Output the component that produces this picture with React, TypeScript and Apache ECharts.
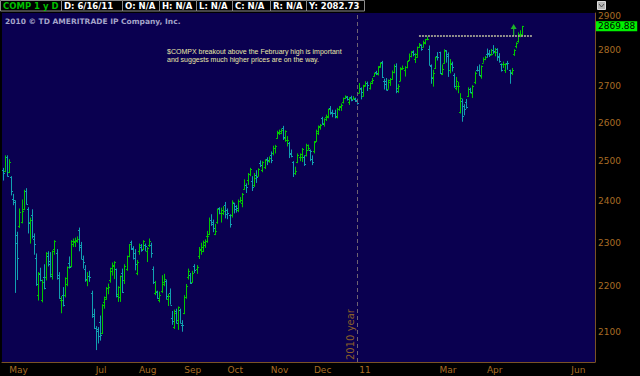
import React, { useEffect, useRef } from 'react';
import * as echarts from 'echarts';

const START_DAY = '2010-04-28';
const END_DAY = '2011-06-16';
const HOLIDAYS = ['2010-05-31', '2010-07-05', '2010-09-06', '2010-11-25', '2010-12-24', '2011-01-17', '2011-02-21', '2011-04-22', '2011-05-30'];
const MONTH_LABELS: [string, string][] = [
  ['2010-05-03', 'May'], ['2010-07-01', 'Jul'], ['2010-08-02', 'Aug'], ['2010-09-01', 'Sep'],
  ['2010-10-01', 'Oct'], ['2010-11-01', 'Nov'], ['2010-12-01', 'Dec'], ['2011-01-03', '11'],
  ['2011-03-01', 'Mar'], ['2011-04-01', 'Apr'], ['2011-06-01', 'Jun'],
];
const Y_TICKS = [2100, 2200, 2300, 2400, 2500, 2600, 2700, 2800, 2900];
const LAST_PRICE = 2869.88;
const FEB_HIGH = 2842;
const FEB_HIGH_FROM = '2011-02-14';
const FEB_HIGH_TO = '2011-05-04';
const YEAR_LINE_DAY = '2010-12-31';
const ARROW_POINT: [string, number] = ['2011-04-20', 2859];

// daily bars in trading-day order from 2010-04-28: [open, high, low, close]
const OHLC: number[][] = [
  [2478,2483,2451,2471],[2475,2515,2472,2512],[2510,2515,2461,2463],[2472,2505,2470,2498],[2460,2462,2414,2424],
  [2405,2418,2390,2402],[2398,2402,2185,2319],[2300,2326,2214,2265],[2340,2382,2335,2374],[2350,2404,2346,2375],
  [2380,2428,2378,2425],[2425,2432,2392,2394],[2380,2385,2322,2347],[2350,2360,2298,2354],[2365,2380,2310,2317],
  [2310,2322,2272,2298],[2265,2275,2201,2204],[2180,2232,2168,2229],[2228,2242,2211,2213],[2170,2215,2164,2210],
  [2220,2250,2193,2195],[2220,2278,2213,2277],[2270,2280,2245,2257],[2250,2278,2220,2222],[2228,2282,2215,2281],
  [2285,2306,2272,2303],[2275,2285,2215,2219],[2225,2232,2172,2173],[2170,2178,2140,2170],[2180,2198,2155,2158],
  [2180,2220,2175,2218],[2205,2245,2200,2243],[2252,2268,2240,2243],[2245,2306,2243,2305],[2296,2310,2290,2305],
  [2302,2312,2290,2307],[2305,2315,2300,2309],[2330,2336,2280,2289],[2295,2302,2262,2262],[2262,2270,2240,2255],
  [2240,2248,2210,2217],[2215,2232,2200,2223],[2222,2235,2210,2220],[2185,2190,2130,2135],[2138,2150,2106,2109],
  [2108,2112,2061,2101],[2105,2110,2075,2091],[2120,2135,2081,2094],[2098,2160,2095,2159],[2165,2177,2150,2175],
  [2172,2198,2170,2196],[2195,2206,2182,2198],[2215,2242,2208,2242],[2235,2254,2224,2249],[2245,2257,2216,2255],
  [2240,2240,2175,2179],[2183,2200,2165,2198],[2175,2224,2165,2222],[2230,2240,2185,2187],[2215,2250,2205,2245],
  [2240,2270,2235,2269],[2270,2297,2266,2296],[2302,2305,2283,2288],[2285,2292,2261,2264],[2275,2285,2236,2251],
  [2230,2260,2225,2255],[2280,2298,2272,2295],[2290,2297,2279,2283],[2285,2306,2283,2303],[2295,2298,2280,2293],
  [2280,2290,2255,2288],[2295,2310,2290,2305],[2295,2300,2265,2277],[2240,2245,2205,2209],[2185,2212,2180,2190],
  [2186,2190,2172,2173],[2170,2188,2164,2181],[2190,2225,2185,2209],[2205,2228,2200,2216],[2212,2215,2170,2178],
  [2172,2183,2156,2179],[2185,2195,2159,2159],[2130,2145,2115,2123],[2110,2148,2106,2141],[2145,2150,2118,2119],
  [2125,2155,2104,2153],[2148,2150,2118,2119],[2115,2125,2100,2114],[2140,2180,2138,2177],[2176,2205,2172,2200],
  [2220,2240,2215,2234],[2225,2230,2205,2208],[2210,2235,2208,2229],[2245,2250,2230,2236],[2238,2248,2228,2243],
  [2270,2290,2262,2286],[2282,2300,2272,2289],[2280,2305,2278,2302],[2295,2308,2288,2304],[2315,2328,2300,2315],
  [2320,2360,2318,2355],[2355,2368,2340,2350],[2345,2355,2325,2334],[2320,2345,2318,2327],[2350,2382,2345,2381],
  [2382,2385,2368,2370],[2372,2384,2348,2379],[2372,2388,2366,2377],[2390,2398,2358,2368],[2378,2382,2356,2370],
  [2365,2368,2336,2344],[2365,2402,2360,2399],[2395,2396,2370,2380],[2388,2390,2372,2383],[2378,2404,2373,2401],
  [2400,2410,2396,2402],[2395,2420,2385,2417],[2430,2454,2428,2441],[2440,2444,2420,2436],[2452,2470,2440,2468],
  [2468,2483,2462,2480],[2450,2462,2425,2436],[2440,2470,2435,2458],[2465,2477,2445,2459],[2462,2482,2462,2479],
  [2495,2502,2485,2490],[2478,2500,2472,2497],[2485,2505,2480,2503],[2505,2510,2490,2504],[2500,2512,2496,2507],
  [2515,2525,2495,2504],[2520,2540,2515,2533],[2535,2542,2520,2540],[2560,2579,2558,2577],[2574,2582,2568,2578],
  [2572,2585,2570,2580],[2585,2592,2555,2562],[2560,2580,2550,2578],[2555,2565,2538,2555],[2548,2550,2508,2518],
  [2522,2530,2510,2513],[2498,2500,2460,2469],[2470,2486,2465,2476],[2498,2520,2495,2515],[2510,2520,2500,2518],
  [2512,2534,2498,2532],[2510,2515,2488,2494],[2515,2545,2512,2543],[2530,2543,2528,2535],[2530,2530,2500,2525],
  [2505,2515,2490,2498],[2525,2552,2520,2549],[2552,2582,2550,2579],[2572,2593,2568,2591],[2588,2597,2582,2595],
  [2612,2616,2595,2598],[2600,2612,2590,2609],[2615,2622,2605,2616],[2618,2638,2612,2637],[2640,2645,2622,2625],
  [2628,2635,2615,2627],[2625,2635,2612,2617],[2615,2640,2612,2637],[2636,2645,2632,2642],[2645,2652,2632,2649],
  [2655,2668,2652,2667],[2666,2674,2664,2671],[2670,2672,2660,2665],[2655,2669,2648,2668],[2670,2673,2658,2662],
  [2665,2672,2663,2666],[2665,2668,2656,2662],[2660,2665,2649,2653],[2680,2708,2680,2691],[2695,2696,2663,2682],
  [2672,2703,2671,2702],[2700,2713,2699,2709],[2709,2712,2686,2703],[2695,2710,2690,2707],[2715,2722,2705,2717],
  [2728,2737,2726,2737],[2738,2742,2730,2736],[2732,2755,2729,2755],[2752,2766,2751,2765],[2768,2770,2722,2726],
  [2715,2720,2690,2704],[2715,2722,2688,2689],[2692,2718,2692,2717],[2710,2722,2700,2719],[2720,2743,2717,2739],
  [2740,2760,2735,2756],[2755,2763,2680,2686],[2695,2705,2681,2700],[2715,2752,2713,2751],[2748,2757,2745,2750],
  [2745,2755,2726,2753],[2752,2770,2749,2769],[2772,2791,2770,2784],[2783,2797,2780,2797],[2795,2800,2783,2789],
  [2775,2792,2764,2791],[2782,2811,2779,2809],[2810,2821,2807,2817],[2815,2817,2799,2804],[2810,2828,2809,2825],
  [2820,2833,2817,2832],[2833,2840,2829,2834],[2805,2814,2757,2757],[2755,2760,2706,2723],[2725,2745,2698,2737],
  [2750,2782,2747,2781],[2785,2795,2771,2782],[2795,2796,2733,2737],[2733,2760,2730,2748],[2765,2803,2762,2798],
  [2800,2800,2765,2784],[2790,2794,2725,2745],[2745,2775,2735,2765],[2762,2768,2740,2752],[2730,2735,2695,2701],
  [2693,2725,2688,2715],[2700,2711,2680,2701],[2630,2680,2625,2667],[2660,2665,2603,2617],[2645,2650,2620,2636],
  [2655,2664,2638,2643],[2672,2696,2670,2692],[2692,2695,2680,2683],[2680,2702,2667,2699],[2712,2740,2705,2736],
  [2745,2755,2740,2743],[2745,2760,2728,2730],[2728,2757,2720,2756],[2765,2780,2765,2776],[2775,2784,2772,2781],
  [2790,2805,2779,2789],[2792,2801,2781,2789],[2788,2804,2787,2791],[2800,2815,2790,2799],[2795,2807,2783,2796],
  [2803,2806,2770,2780],[2785,2792,2765,2771],[2760,2763,2740,2744],[2760,2768,2750,2761],[2745,2763,2736,2760],
  [2765,2770,2745,2764],[2745,2745,2706,2736],[2738,2750,2730,2745],[2790,2803,2784,2802],[2812,2823,2806,2820],
  [2826,2852,2822,2847],[2846,2858,2838,2848],[2848,2871,2841,2869.88],
];

const HEADER_BOXES: [number, number, string, string][] = [
  [0, 61, 'COMP 1 y D', '#00c000'], [61, 122, 'D: 6/16/11', '#ffffff'], [122, 159, 'O: N/A', '#ffffff'],
  [159, 196, 'H: N/A', '#ffffff'], [196, 232, 'L: N/A', '#ffffff'], [232, 270, 'C: N/A', '#ffffff'],
  [270, 306, 'R: N/A', '#ffffff'], [306, 364, 'Y: 2082.73', '#ffffff'],
];
const COPYRIGHT = '2010 \u00a9 TD AMERITRADE IP Company, Inc.';
const NOTE_LINES = ['$COMPX breakout above the February high is important', 'and suggests much higher prices are on the way.'];

const UP = '#00c800';
const DOWN = '#11a0b0';
const BROWN = '#a86c24';
const AXIS_BROWN = '#7a5226';

function tradingDays(): string[] {
  const out: string[] = [];
  const d = new Date(START_DAY + 'T00:00:00Z');
  const end = new Date(END_DAY + 'T00:00:00Z');
  while (d.getTime() <= end.getTime()) {
    const wd = d.getUTCDay();
    const s = d.toISOString().slice(0, 10);
    if (wd !== 0 && wd !== 6 && HOLIDAYS.indexOf(s) < 0) out.push(s);
    d.setUTCDate(d.getUTCDate() + 1);
  }
  return out;
}

export default function App() {
  const ref = useRef<HTMLDivElement>(null);
  useEffect(() => {
    if (!ref.current) return;
    const chart = echarts.init(ref.current, undefined, { renderer: 'svg' });
    const cats = tradingDays();
    const labelMap = new Map<string, string>(MONTH_LABELS);
    const data = OHLC.map((r, i) => [i, r[0], r[1], r[2], r[3]]);

    const renderItem = (params: any, api: any) => {
      const i = api.value(0);
      const o = api.value(1), h = api.value(2), l = api.value(3), c = api.value(4);
      const pH = api.coord([i, h]);
      const pL = api.coord([i, l]);
      const pO = api.coord([i, o]);
      const pC = api.coord([i, c]);
      const x = Math.round(pH[0]) + 0.5;
      const col = c >= o ? UP : DOWN;
      const st = { stroke: col, lineWidth: 1 };
      const yo = Math.round(pO[1]) + 0.5;
      const yc = Math.round(pC[1]) + 0.5;
      return {
        type: 'group',
        children: [
          { type: 'line', shape: { x1: x, y1: pH[1], x2: x, y2: pL[1] }, style: st },
          { type: 'line', shape: { x1: x - 1.5, y1: yo, x2: x, y2: yo }, style: st },
          { type: 'line', shape: { x1: x, y1: yc, x2: x + 1.5, y2: yc }, style: st },
        ],
      };
    };

    const graphics: any[] = [];
    HEADER_BOXES.forEach(([x0, x1, t, col]) => {
      graphics.push({
        type: 'rect', z: 100, shape: { x: x0 + 0.5, y: 0.5, width: x1 - x0, height: 10.5 },
        style: { fill: '#000', stroke: '#8c8c8c', lineWidth: 1 },
      });
      graphics.push({
        type: 'text', z: 101, x: x0 + 3, y: 6,
        style: { text: t, fill: col, fontSize: 8.5, fontWeight: 'bold', fontFamily: 'DejaVu Sans', verticalAlign: 'middle', align: 'left' },
      });
    });
    graphics.push({
      type: 'text', z: 101, x: 5, y: 21,
      style: { text: COPYRIGHT, fill: '#a4a4c8', fontSize: 7.5, fontWeight: 'bold', fontFamily: 'DejaVu Sans', verticalAlign: 'middle' },
    });
    NOTE_LINES.forEach((t, k) => {
      graphics.push({
        type: 'text', z: 101, x: 167, y: 51 + k * 8,
        style: { text: t, fill: '#e8e8a8', fontSize: 7, fontFamily: 'Liberation Sans', verticalAlign: 'middle' },
      });
    });
    graphics.push({
      type: 'rect', z: 101, shape: { x: 597.5, y: 1.5, width: 8, height: 8 },
      style: { fill: '#b4b4b4', stroke: '#dcdcdc', lineWidth: 1 },
    });
    graphics.push({
      type: 'polyline', z: 102, shape: { points: [[599, 4], [601.5, 7], [604, 4]] },
      style: { stroke: '#505050', lineWidth: 1, fill: 'none' },
    });

    chart.setOption({
      animation: false,
      backgroundColor: '#000000',
      grid: { left: 0, right: 45, top: 13, bottom: 14, show: true, backgroundColor: '#0a0050', borderWidth: 0 },
      xAxis: {
        type: 'category',
        data: cats,
        boundaryGap: true,
        axisLine: { show: true, lineStyle: { color: AXIS_BROWN, width: 1 } },
        axisTick: { show: false },
        splitLine: { show: false },
        axisLabel: {
          interval: 0,
          formatter: (v: string) => labelMap.get(v) || '',
          color: BROWN, fontSize: 9, fontFamily: 'DejaVu Sans', align: 'left', margin: 3,
        },
      },
      yAxis: {
        type: 'log',
        position: 'right',
        min: 2036,
        max: 2909,
        axisLine: { show: true, lineStyle: { color: AXIS_BROWN, width: 1 } },
        axisTick: { show: false },
        splitLine: { show: false },
        axisLabel: {
          customValues: Y_TICKS,
          formatter: (v: number) => String(Math.round(v)),
          color: BROWN, fontSize: 9, fontFamily: 'DejaVu Sans', margin: 3,
        },
      },
      series: [
        {
          type: 'custom',
          renderItem,
          data,
          encode: { x: 0, y: [1, 2, 3, 4] },
          clip: true,
          markLine: {
            symbol: 'none',
            silent: true,
            animation: false,
            data: [
              {
                xAxis: YEAR_LINE_DAY,
                lineStyle: { color: '#6e6272', type: [4, 3], width: 1 },
                label: { show: true, position: 'insideStartTop', formatter: '2010 year', color: '#8a5e2a', fontSize: 10, fontFamily: 'DejaVu Sans', distance: 2 },
              },
              [
                { coord: [FEB_HIGH_FROM, FEB_HIGH], lineStyle: { color: '#c0c0a0', type: [2, 1], width: 1.5 }, label: { show: false } },
                { coord: [FEB_HIGH_TO, FEB_HIGH] },
              ],
            ],
          },
        },
        {
          type: 'line',
          data: [],
          silent: true,
          markLine: {
            symbol: 'none',
            silent: true,
            animation: false,
            data: [
              {
                yAxis: LAST_PRICE,
                lineStyle: { color: 'rgba(0,0,0,0)', width: 0 },
                label: {
                  show: true, position: 'end', formatter: '2869.88', distance: 1,
                  backgroundColor: '#00f000', color: '#000', fontSize: 9, fontFamily: 'DejaVu Sans', padding: [1, 2, 0, 2],
                },
              },
            ],
          },
        },
        {
          type: 'scatter',
          data: [ARROW_POINT],
          symbol: 'path://M3,0 L6,5 L3.6,5 L3.6,12 L2.4,12 L2.4,5 L0,5 Z',
          symbolSize: [6, 12],
          itemStyle: { color: '#20e020' },
          silent: true,
        },
      ],
      graphic: graphics,
    });
    return () => chart.dispose();
  }, []);
  return <div ref={ref} style={{ position: 'fixed', left: 0, top: 0, width: 640, height: 376 }} />;
}
